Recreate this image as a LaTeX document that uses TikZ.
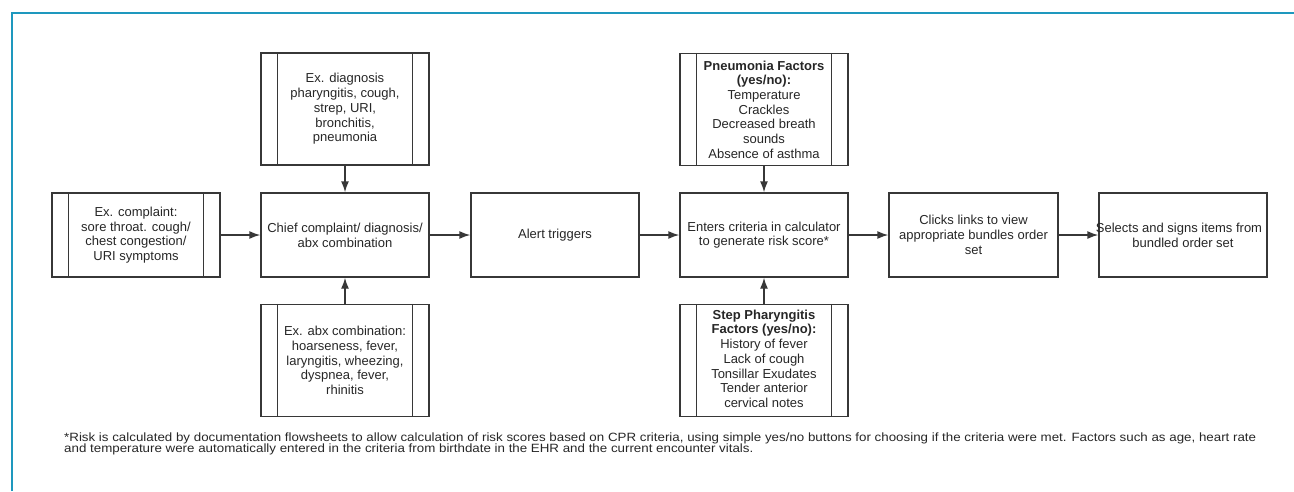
\documentclass[tikz,border=0pt]{standalone}
\usepackage{fontspec}
\setmainfont{Liberation Sans}
\usetikzlibrary{arrows.meta}
\definecolor{frameteal}{RGB}{30,152,190}
\definecolor{boxgray}{RGB}{55,55,55}
\begin{document}
\begin{tikzpicture}[x=1pt,y=-1pt,
  box/.style={draw=boxgray, line width=1.4pt, minimum width=168pt, minimum height=84pt,
    inner sep=0pt, align=center, font=\fontsize{13}{14.7}\selectfont, text=black!85},
  tallbox/.style={box, minimum height=112pt},
  arr/.style={draw=boxgray, line width=1.4pt, -{Latex[length=11pt,width=8pt]}},
  inner/.style={draw=boxgray, line width=1.4pt}]
\useasboundingbox (0,0) rectangle (1294,491);
\draw[frameteal, line width=2pt] (12,491) -- (12,13) -- (1294,13);

\node[box] (comp) at (136,235) {Ex. complaint:\\sore throat. cough/\\chest congestion/\\URI symptoms};
\node[box] (chief) at (345,235) {Chief complaint/ diagnosis/\\abx combination};
\node[tallbox] (diag) at (345,109) {Ex. diagnosis\\pharyngitis, cough,\\strep, URI,\\bronchitis,\\pneumonia};
\node[tallbox] (abx) at (345,360.5) {Ex. abx combination:\\hoarseness, fever,\\laryngitis, wheezing,\\dyspnea, fever,\\rhinitis};
\node[box] (alert) at (555,235) {Alert triggers};
\node[box] (enter) at (764,235) {Enters criteria in calculator\\to generate risk score*};
\node[tallbox] (pneu) at (764,109.5) {\textbf{Pneumonia Factors}\\\textbf{(yes/no):}\\Temperature\\Crackles\\Decreased breath\\sounds\\Absence of asthma};
\node[tallbox] (step) at (764,360.5) {\textbf{Step Pharyngitis}\\\textbf{Factors (yes/no):}\\History of fever\\Lack of cough\\Tonsillar Exudates\\Tender anterior\\cervical notes\\[-11pt]};
\node[box, minimum width=169pt] (clicks) at (973.5,235) {Clicks links to view\\appropriate bundles order\\set};
\node[box] (sel) at (1183,235) {\makebox[0pt]{Selects and signs items from\hspace{8pt}}\\bundled order set\hspace{8pt}};

\foreach \n in {comp,diag,abx,pneu,step}{
  \draw[inner] ([xshift=17pt]\n.north west) -- ([xshift=17pt]\n.south west);
  \draw[inner] ([xshift=-17pt]\n.north east) -- ([xshift=-17pt]\n.south east);
}

\draw[arr] (comp) -- (chief);
\draw[arr] (chief) -- (alert);
\draw[arr] (alert) -- (enter);
\draw[arr] (enter) -- (clicks);
\draw[arr] (clicks) -- (sel);
\draw[arr] (diag) -- (chief);
\draw[arr] (abx) -- (chief);
\draw[arr] (pneu) -- (enter);
\draw[arr] (step) -- (enter);

\node[anchor=west, align=left, inner sep=0pt, font=\fontsize{12}{11.7}\selectfont, text=black!85] (note) at (64,444)
 {\scalebox{1.111}[1]{\parbox[c]{1080pt}{\raggedright *Risk is calculated by documentation flowsheets to allow calculation of risk scores based on CPR criteria, using simple yes/no buttons for choosing if the criteria were met. Factors such as age, heart rate\\and temperature were automatically entered in the criteria from birthdate in the EHR and the current encounter vitals.}}};
\end{tikzpicture}
\end{document}
